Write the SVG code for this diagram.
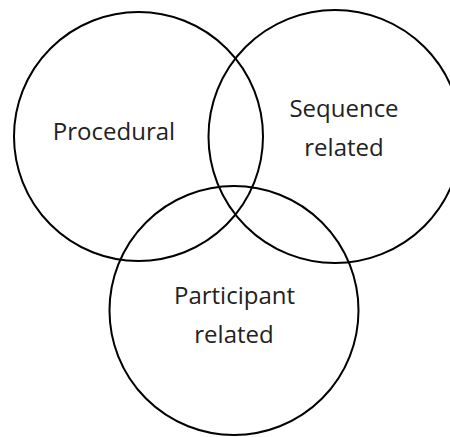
<svg xmlns="http://www.w3.org/2000/svg" width="450" height="437" viewBox="0 0 450 437">
<style>
.c{fill:none;stroke:#000;stroke-width:2}
.t{font-family:"Open Sans","Noto Sans",sans-serif;font-size:24px;fill:#222;text-anchor:middle}
</style>
<rect width="450" height="437" fill="#fff"/>
<g id="procedural">
<circle class="c" cx="138.5" cy="136.5" r="124.5"/>
<text class="t" x="114" y="140">Procedural</text>
</g>
<g id="sequence">
<circle class="c" cx="335" cy="136.5" r="126.5"/>
<text class="t" x="344" y="117">Sequence</text>
<text class="t" x="344" y="156">related</text>
</g>
<g id="participant">
<circle class="c" cx="234" cy="310.5" r="124.5"/>
<text class="t" x="234.5" y="304">Participant</text>
<text class="t" x="234" y="343">related</text>
</g>
<g id="connectors"/>
</svg>
